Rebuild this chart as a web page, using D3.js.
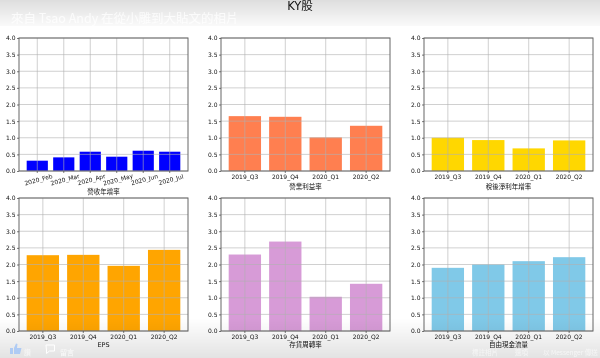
<!DOCTYPE html>
<html>
<head>
<meta charset="utf-8">
<script src="https://d3js.org/d3.v7.min.js"></script>
<style>
  html, body { margin: 0; padding: 0; background: #fff; }
  svg { display: block; filter: blur(0.35px); }
  text { font-family: "DejaVu Sans", "Noto Sans CJK TC", sans-serif; }
  .tick text { font-size: 6px; fill: #111; }
  .tick line { stroke: #444; stroke-width: .7px; }
  .domain { display: none; }
</style>
</head>
<body>
<div class="content"></div>
<script>
var width = 600, height = 358;

var months = ['2020_Feb', '2020_Mar', '2020_Apr', '2020_May', '2020_Jun', '2020_Jul'];
var quarters = ['2019_Q3', '2019_Q4', '2020_Q1', '2020_Q2'];
var yTicks = [0, 0.5, 1, 1.5, 2, 2.5, 3, 3.5, 4];

var revenueGrowth = [0.31, 0.41, 0.58, 0.43, 0.61, 0.58];
var operatingMargin = [1.65, 1.63, 1.01, 1.36];
var netGrowth = [1.0, 0.93, 0.68, 0.92];
var eps = [2.28, 2.29, 1.96, 2.44];
var inventoryTurnover = [2.3, 2.69, 1.03, 1.42];
var freeCashFlow = [1.9, 2.0, 2.1, 2.22];

var panels = [
  { cats: months, vals: revenueGrowth, color: '#0000ff', label: '營收年增率', x: 19, y: 38, labelY: 194, rotate: true },
  { cats: quarters, vals: operatingMargin, color: '#ff7f50', label: '營業利益率', x: 221, y: 38, labelY: 188.5 },
  { cats: quarters, vals: netGrowth, color: '#ffd700', label: '稅後淨利年增率', x: 424, y: 38, labelY: 188.5 },
  { cats: quarters, vals: eps, color: '#ffa500', label: 'EPS', x: 19, y: 198, labelY: 347 },
  { cats: quarters, vals: inventoryTurnover, color: '#d79bd7', label: '存貨周轉率', x: 221, y: 198, labelY: 347 },
  { cats: quarters, vals: freeCashFlow, color: '#80c9e8', label: '自由現金流量', x: 424, y: 198, labelY: 347 }
];

var panelW = 169, panelH = 133;

var svg = d3.select('.content').append('svg')
  .attr('width', width)
  .attr('height', height);

var defs = svg.append('defs');
var topFade = defs.append('linearGradient')
  .attr('id', 'topFade')
  .attr('x1', '0%').attr('y1', '0%').attr('x2', '0%').attr('y2', '100%');
topFade.append('stop').attr('offset', '0%').style('stop-color', '#000').style('stop-opacity', 0.13);
topFade.append('stop').attr('offset', '100%').style('stop-color', '#000').style('stop-opacity', 0.02);
var bottomFade = defs.append('linearGradient')
  .attr('id', 'bottomFade')
  .attr('x1', '0%').attr('y1', '0%').attr('x2', '0%').attr('y2', '100%');
bottomFade.append('stop').attr('offset', '0%').style('stop-color', '#000').style('stop-opacity', 0);
bottomFade.append('stop').attr('offset', '100%').style('stop-color', '#000').style('stop-opacity', 0.11);

var y = d3.scaleLinear().domain([0, 4]).range([panelH, 0]);

panels.forEach(function (p) {
  var n = p.cats.length;
  // same margins as a matplotlib bar chart: 5% of the bar extent on both sides
  var x = d3.scaleBand()
    .domain(p.cats)
    .range([0, panelW])
    .paddingInner(0.2)
    .paddingOuter(0.05 * (n - 0.2));

  var g = svg.append('g').attr('transform', 'translate(' + p.x + ',' + p.y + ')');

  g.selectAll('.bar')
    .data(p.vals)
    .enter().append('rect')
    .attr('class', 'bar')
    .attr('x', function (d, i) { return x(p.cats[i]); })
    .attr('y', function (d) { return y(d); })
    .attr('width', x.bandwidth())
    .attr('height', function (d) { return panelH - y(d); })
    .attr('fill', p.color);

  g.selectAll('.hgrid')
    .data(yTicks)
    .enter().append('line')
    .attr('class', 'hgrid')
    .attr('x1', 0).attr('x2', panelW)
    .attr('y1', function (d) { return y(d); })
    .attr('y2', function (d) { return y(d); })
    .attr('stroke', '#b0b0b0').attr('stroke-opacity', 0.6).attr('stroke-width', 1);

  g.selectAll('.vgrid')
    .data(p.cats)
    .enter().append('line')
    .attr('class', 'vgrid')
    .attr('y1', 0).attr('y2', panelH)
    .attr('x1', function (d) { return x(d) + x.bandwidth() / 2; })
    .attr('x2', function (d) { return x(d) + x.bandwidth() / 2; })
    .attr('stroke', '#b0b0b0').attr('stroke-opacity', 0.6).attr('stroke-width', 1);

  g.append('rect')
    .attr('width', panelW).attr('height', panelH)
    .attr('fill', 'none').attr('stroke', '#666').attr('stroke-width', 1);

  g.append('g')
    .call(d3.axisLeft(y).tickValues(yTicks).tickSize(2).tickPadding(1.5).tickFormat(d3.format('.1f')));

  var xAxis = g.append('g')
    .attr('transform', 'translate(0,' + panelH + ')')
    .call(d3.axisBottom(x).tickSize(2).tickPadding(1.5));

  if (p.rotate) {
    xAxis.selectAll('.tick text')
      .attr('text-anchor', 'middle')
      .attr('transform', 'rotate(-15) translate(-1,3)');
  }

  svg.append('text')
    .attr('x', p.x + panelW / 2)
    .attr('y', p.labelY)
    .attr('text-anchor', 'middle')
    .style('font-size', '6.5px')
    .style('fill', '#111')
    .text(p.label);
});

// photo viewer overlay on top of the screenshot
svg.append('rect').attr('width', width).attr('height', 26).attr('fill', 'url(#topFade)');
svg.append('rect').attr('y', 318).attr('width', width).attr('height', 40).attr('fill', 'url(#bottomFade)');

svg.append('text')
  .attr('x', 300).attr('y', 10)
  .attr('text-anchor', 'middle')
  .style('font-size', '11.5px').style('fill', '#111')
  .text('KY股');

svg.append('text')
  .attr('x', 11).attr('y', 23)
  .style('font-size', '12.5px').style('fill', '#fff').style('fill-opacity', 0.75)
  .style('font-family', '"Noto Sans CJK TC", sans-serif')
  .text('來自 Tsao Andy 在從小雕到大貼文的相片');

var footer = [
  { text: '讚', x: 24, size: 7, op: 0.7 },
  { text: '留言', x: 60, size: 7, op: 0.8 },
  { text: '標註相片', x: 472, size: 6.5, op: 0.6 },
  { text: '選項', x: 515, size: 6.5, op: 0.6 },
  { text: '以 Messenger 傳送', x: 543, size: 6.5, op: 0.6 }
];
svg.selectAll('.foot')
  .data(footer)
  .enter().append('text')
  .attr('class', 'foot')
  .attr('x', function (d) { return d.x; })
  .attr('y', 355)
  .style('font-size', function (d) { return d.size + 'px'; })
  .style('fill', '#fff')
  .style('fill-opacity', function (d) { return d.op; })
  .style('font-family', '"Noto Sans CJK TC", sans-serif')
  .text(function (d) { return d.text; });

// like and comment icons
svg.append('path')
  .attr('d', 'M10 354h3v-6h-3zM14 354h6l1.5-6h-4.5l.5-4-1.5-.5-2 4.5z')
  .attr('fill', '#a9c8f5').attr('fill-opacity', 0.9);
svg.append('path')
  .attr('d', 'M46 345h8.5v6h-5l-3 2.5v-2.5z')
  .attr('fill', 'none').attr('stroke', '#fff').attr('stroke-width', 1);
</script>
</body>
</html>
